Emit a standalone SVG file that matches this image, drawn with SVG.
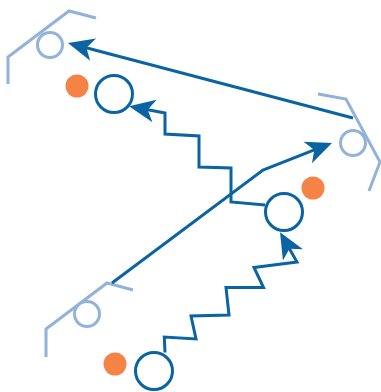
<svg xmlns="http://www.w3.org/2000/svg" width="381" height="392" viewBox="0 0 381 392">
<style>
.frame{fill:none;stroke:#92b2da;stroke-width:3;stroke-linejoin:miter}
.port{fill:#fff;stroke:#92b2da;stroke-width:3}
.dot{fill:#f58345}
.hub{fill:#fff;stroke:#0a64a4;stroke-width:3}
.edge{fill:none;stroke:#0a64a4;stroke-width:3;stroke-linejoin:miter}
</style>
<defs>
<marker id="arr" markerUnits="userSpaceOnUse" markerWidth="30" markerHeight="26" refX="20" refY="11.5" orient="auto" overflow="visible">
<path d="M26,11.5 L0,0 L7,11.5 L0,23 Z" fill="#0a64a4"/>
</marker>
</defs>
<g id="node-1">
<polyline class="frame" points="8,84 8,57 69,11 96,18"/>
<circle class="port" cx="50" cy="45" r="12.5"/>
<circle class="dot" cx="77" cy="86" r="11.5"/>
<circle class="hub" cx="114" cy="94" r="18.5"/>
</g>
<g id="node-2">
<polyline class="frame" points="318,94 346,99 380,162 369,191"/>
<circle class="port" cx="353" cy="143" r="12.5"/>
<circle class="dot" cx="313" cy="188" r="11.5"/>
<circle class="hub" cx="284" cy="212" r="18.5"/>
</g>
<g id="node-3">
<polyline class="frame" points="46,357 46,329 107,283 133,290"/>
<circle class="port" cx="87" cy="314" r="12.5"/>
<circle class="dot" cx="115" cy="364" r="11.5"/>
<circle class="hub" cx="154" cy="371" r="18.5"/>
</g>
<g id="connectors">
<path class="edge" d="M353,118 L73.8,44.5" marker-end="url(#arr)"/>
<path class="edge" d="M265,205 L231,202 L231,168 L199,167 L199,136 L165,134 L165,113 L134.9,107.3" marker-end="url(#arr)"/>
<path class="edge" d="M112,283 L263,170 L326.4,145.2" marker-end="url(#arr)"/>
<path class="edge" d="M165,352.5 L164.3,337 L196,339 L191,316 L229,315 L226,287.5 L263.5,287.5 L254,267.5 L297,262 L283,237.5" marker-end="url(#arr)"/>
</g>
</svg>
